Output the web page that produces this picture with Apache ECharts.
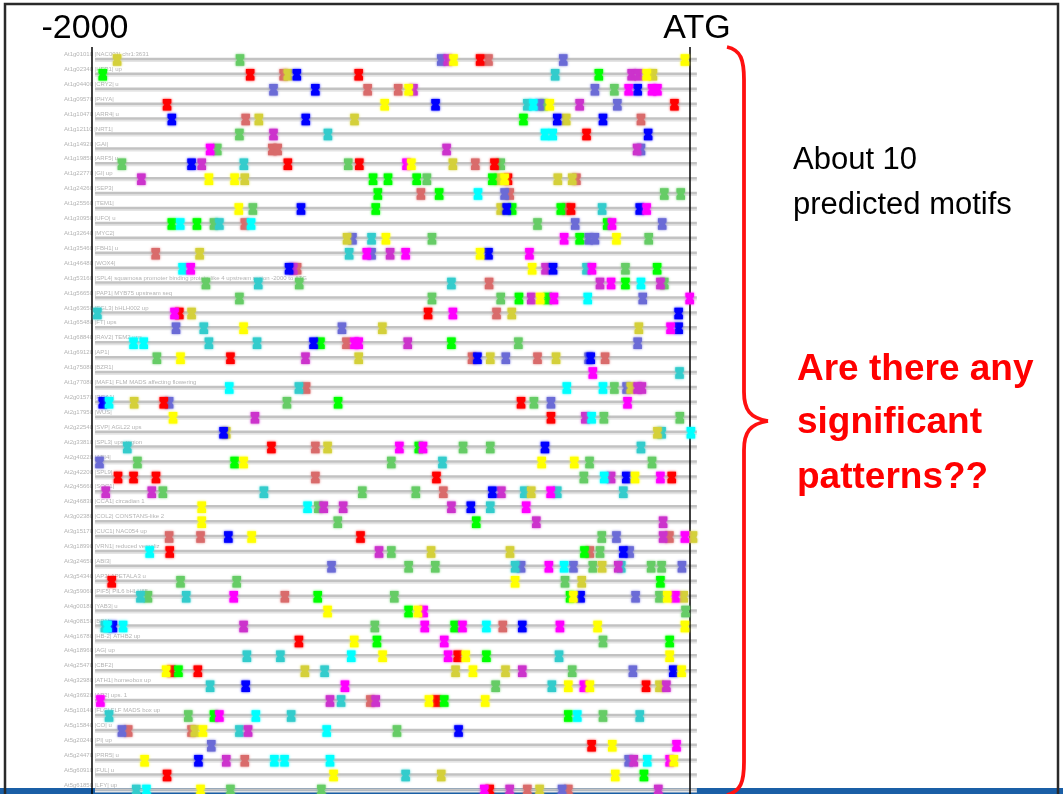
<!DOCTYPE html>
<html>
<head>
<meta charset="utf-8">
<title>Promoter motifs</title>
<script src="https://cdn.jsdelivr.net/npm/echarts@6.0.0/dist/echarts.min.js"></script>
<style>
  html, body { margin: 0; padding: 0; background: #fff; }
  #chart { width: 1063px; height: 794px; }
</style>
</head>
<body>
<div id="chart"></div>
<script>
// upstream window, bp relative to the ATG
const tickValues = [-2000, 0];
const tickLabels = ['-2000', 'ATG'];
const lineStart = -1990;
const lineEnd = 23;

const rowLabels = [
    'At1g01010 |NAC001| chr1:3631', 'At1g02340 |HFR1| up', 'At1g04400 |CRY2| u', 'At1g09570 |PHYA|',
    'At1g10470 |ARR4| u', 'At1g12110 |NRT1|', 'At1g14920 |GAI|', 'At1g19850 |ARF5| u',
    'At1g22770 |GI| up', 'At1g24260 |SEP3|', 'At1g25560 |TEM1|', 'At1g30950 |UFO| u',
    'At1g32640 |MYC2|', 'At1g35460 |FBH1| u', 'At1g46480 |WOX4|',
    'At1g53160 |SPL4| squamosa promoter binding protein-like 4 upstream region -2000 to ATG',
    'At1g56650 |PAP1| MYB75 upstream seq', 'At1g63650 |EGL3| bHLH002 up', 'At1g65480 |FT| ups',
    'At1g68840 |RAV2| TEM2 ups', 'At1g69120 |AP1|', 'At1g75080 |BZR1|',
    'At1g77080 |MAF1| FLM MADS affecting flowering', 'At2g01570 |RGA1|', 'At2g17950 |WUS|',
    'At2g22540 |SVP| AGL22 ups', 'At2g33810 |SPL3| ups region', 'At2g40220 |ABI4|',
    'At2g42200 |SPL9| u', 'At2g45660 |SOC1|', 'At2g46830 |CCA1| circadian 1',
    'At3g02380 |COL2| CONSTANS-like 2', 'At3g15170 |CUC1| NAC054 up', 'At3g18990 |VRN1| reduced vernaliz',
    'At3g24650 |ABI3|', 'At3g54340 |AP3| APETALA3 u', 'At3g59060 |PIF5| PIL6 bHLH65',
    'At4g00180 |YAB3| u', 'At4g08150 |BP1|', 'At4g16780 |HB-2| ATHB2 up', 'At4g18960 |AG| up',
    'At4g25470 |CBF2|', 'At4g32980 |ATH1| homeobox up', 'At4g36920 |AP2| ups. 1',
    'At5g10140 |FLC| FLF MADS box up', 'At5g15840 |CO| u', 'At5g20240 |PI| up',
    'At5g24470 |PRR5| u', 'At5g60910 |FUL| u', 'At5g61850 |LFY| up'
];

// motif hits: [position (bp), row]
const motifYellow = [[-791,0],[-17,0],[-145,1],[-941,2],[-1021,3],[-469,3],[-932,7],[-1609,8],[-1523,8],[-620,8],[-1509,10],[-1017,12],[-246,12],[-702,13],[-528,14],[-501,16],[-1493,18],[-1704,20],[-1729,24],[-1493,27],[-496,27],[-387,27],[-184,28],[-1633,30],[-1633,31],[-1466,32],[-585,35],[-390,36],[-76,36],[-1212,37],[-910,37],[-309,38],[-17,38],[-1123,39],[-1028,40],[-750,40],[-68,40],[-1752,41],[-726,41],[-28,41],[-407,42],[-335,42],[-873,43],[-685,43],[-1629,45],[-260,46],[-1824,47],[-54,47],[-1192,48],[-250,48],[-1637,49]];
const motifOlive = [[-1916,0],[-1345,1],[-124,1],[-1442,4],[-1122,4],[-414,4],[-793,7],[-1489,8],[-640,8],[-442,8],[-394,8],[-633,10],[-1147,12],[-1640,13],[-1667,17],[-596,17],[-1029,18],[-171,18],[-1108,20],[-668,20],[-448,20],[-198,22],[-1859,23],[-1551,25],[-109,25],[-1212,26],[-531,29],[10,32],[-866,33],[-602,33],[-294,34],[-362,35],[-21,36],[-1288,41],[-784,41],[-617,41],[-102,42],[-1656,45],[-832,48],[-503,49]];
const motifGreen = [[-1964,1],[-305,1],[-557,4],[-1060,8],[-1010,8],[-914,8],[-661,8],[-1044,9],[-839,9],[-1051,10],[-595,10],[-432,10],[-1733,11],[-1649,11],[-277,11],[-369,12],[-110,14],[-216,15],[-572,16],[-476,16],[-1236,19],[-798,19],[-1177,23],[-907,26],[-1523,27],[-715,31],[-353,33],[-99,35],[-1245,36],[-401,36],[-941,37],[-787,38],[-1047,39],[-68,39],[-681,40],[-1711,41],[-822,43],[-1592,44],[-407,44],[-154,48]];
const motifLightGreen = [[-1505,0],[-253,2],[-490,3],[-1507,5],[-1581,6],[-1900,7],[-1143,7],[-633,7],[-880,8],[-86,9],[-31,9],[-1462,10],[-1592,11],[-510,11],[-863,12],[-138,12],[-216,14],[-1619,15],[-1307,15],[-86,15],[-1507,16],[-863,16],[-633,16],[-574,19],[-1783,20],[-253,22],[-1348,23],[-522,23],[-288,24],[-34,24],[-759,26],[-668,26],[-1848,27],[-999,27],[-336,27],[-127,27],[-355,28],[-1763,29],[-1096,29],[-917,29],[-1243,30],[-1178,31],[-295,32],[-999,33],[-301,33],[-941,34],[-852,34],[-325,34],[-130,34],[-95,34],[-1704,35],[-1516,35],[-418,35],[-1813,36],[-989,36],[-102,36],[-15,37],[-1054,38],[-291,39],[-394,41],[-650,42],[-1678,44],[-291,44],[-980,45],[-1537,49],[-1233,49]];
const motifRed = [[-702,0],[-1471,1],[-1108,1],[-1749,3],[-52,3],[-346,5],[-1345,7],[-1106,7],[-654,7],[-609,8],[-398,10],[-1708,17],[-876,17],[-1537,20],[-1760,23],[-565,23],[-465,24],[-1400,26],[-1913,28],[-1861,28],[-1786,28],[-848,28],[-61,28],[-1102,32],[-1740,33],[-1934,35],[-1308,39],[-777,40],[-1735,41],[-1646,41],[-147,42],[-848,43],[-329,46],[-1749,48],[-670,49]];
const motifSalmon = [[-674,0],[-1359,1],[-1078,2],[-976,2],[-1486,4],[-164,4],[-1397,6],[-1379,6],[-718,7],[-380,8],[-900,9],[-603,9],[-414,10],[-1489,11],[-1787,13],[-1314,14],[-672,15],[-647,17],[-1149,19],[-729,20],[-510,20],[-284,20],[-1284,22],[-1253,26],[-1253,28],[-825,29],[-1742,32],[-1637,32],[-69,32],[-335,33],[-1355,36],[-626,38],[-1069,43],[-1879,45],[-1667,45],[-1489,47],[-544,49],[-407,49]];
const motifBlue = [[-1315,1],[-1253,2],[-175,2],[-851,3],[-1733,4],[-1285,4],[-444,4],[-291,4],[-140,5],[-1667,7],[-1301,10],[-613,10],[-168,10],[-674,13],[-1341,14],[-458,14],[-38,17],[-38,18],[-1259,19],[-711,20],[-332,20],[-1964,23],[-1560,25],[-485,26],[-213,28],[-661,29],[-733,30],[-1544,32],[-223,33],[-366,36],[-1930,38],[-561,38],[-56,41],[-1486,42],[-774,45],[-1644,47]];
const motifSlate = [[-832,0],[-424,0],[-1393,2],[-318,2],[-503,3],[-243,3],[-164,6],[-620,9],[-384,11],[-93,11],[-1129,12],[-339,12],[-318,12],[-1065,13],[-158,16],[-1719,18],[-1164,18],[-175,19],[-616,20],[-339,20],[-212,22],[-1742,23],[-465,23],[-1975,27],[-246,32],[-202,33],[-1199,34],[-565,34],[-390,34],[-27,34],[-182,36],[-191,41],[-1900,45],[-1601,46],[-205,47],[-428,49]];
const motifCyan = [[-524,3],[-485,5],[-459,5],[-709,9],[-1705,11],[-1468,11],[-1697,14],[-164,15],[-342,16],[-1861,19],[-1827,19],[-1541,22],[-412,22],[-291,22],[-1943,23],[-329,24],[3,25],[-287,28],[-1279,30],[-1807,33],[-421,34],[-1948,38],[-1896,38],[-681,38],[-1133,40],[-1452,44],[-377,44],[-1215,45],[-1390,47],[-1356,47],[-1204,47],[-143,47],[-1818,49]];
const motifTeal = [[-451,1],[-544,3],[-1211,5],[-1492,7],[-294,10],[-1574,11],[-1065,12],[-1140,13],[-346,14],[-1444,15],[-798,15],[-1982,17],[-1626,18],[-1609,19],[-1448,19],[-35,21],[-1308,22],[-95,25],[-1882,26],[-164,26],[-828,27],[-1425,29],[-554,29],[-444,29],[-223,29],[-668,30],[-585,34],[-230,34],[-1838,36],[-1685,36],[-1957,38],[-1482,40],[-1370,40],[-438,40],[-1222,41],[-1605,42],[-462,42],[-1167,43],[-1943,44],[-1334,44],[-168,44],[-1507,45],[-951,48],[-1852,49]];
const motifMagenta = [[-205,2],[-127,2],[-109,2],[-1605,6],[-948,7],[-145,10],[-261,11],[-421,12],[-1081,13],[-951,13],[-537,13],[-1670,14],[-328,14],[-264,15],[-455,16],[-1,16],[-1724,17],[-793,17],[-65,18],[-1122,19],[-1108,19],[-325,21],[-209,23],[-972,26],[-893,26],[-99,28],[-466,29],[-548,30],[-17,32],[-472,34],[-1526,36],[-49,36],[-891,37],[-887,38],[-761,38],[-435,38],[-822,39],[-809,40],[-1154,42],[-355,42],[-1972,43],[-1574,44],[-45,46],[-68,47],[-688,49]];
const motifOrchid = [[-810,0],[-195,1],[-172,1],[-925,2],[-369,3],[-1393,5],[-814,6],[-177,6],[-1633,7],[-1835,8],[-1003,13],[-1327,14],[-483,14],[-301,15],[-99,15],[-531,16],[-944,19],[-1286,20],[-175,22],[-161,22],[-1455,24],[-350,24],[-264,28],[-1954,29],[-1800,29],[-631,29],[-1225,30],[-1160,30],[-798,30],[-514,31],[-90,31],[-90,32],[-1040,33],[-240,34],[-1493,38],[-561,41],[-79,42],[-1204,43],[-1051,43],[-1478,45],[-1551,47],[-188,47],[-603,49],[-106,49]];

const motifs = [
    {name: 'salmon', color: '#d96b6b', data: motifSalmon},
    {name: 'lightgreen', color: '#66cc66', data: motifLightGreen},
    {name: 'slate', color: '#6b6bd6', data: motifSlate},
    {name: 'teal', color: '#33cccc', data: motifTeal},
    {name: 'olive', color: '#d4d03a', data: motifOlive},
    {name: 'orchid', color: '#cc33cc', data: motifOrchid},
    {name: 'red', color: '#ff0000', data: motifRed},
    {name: 'green', color: '#00ff00', data: motifGreen},
    {name: 'blue', color: '#0000ff', data: motifBlue},
    {name: 'cyan', color: '#00ffff', data: motifCyan},
    {name: 'magenta', color: '#ff00ff', data: motifMagenta},
    {name: 'yellow', color: '#ffff00', data: motifYellow},
];

const glyph = 'path://M0,0H10V4.5L8,6.5L10,8.5V13H0V8.5L2,6.5L0,4.5Z';
const font = '"Liberation Sans", Arial, sans-serif';
const braceColor = '#ff1010';

const chart = echarts.init(document.getElementById('chart'));

const rowSeries = {
    type: 'custom',
    silent: true,
    z: 1,
    data: rowLabels.map((label, i) => [lineStart, i, lineEnd]),
    encode: {x: [0, 2], y: 1},
    renderItem: (params, api) => {
        const row = api.value(1);
        const a = api.coord([api.value(0), row]);
        const b = api.coord([api.value(2), row]);
        return {
            type: 'group',
            children: [
                {type: 'line', shape: {x1: a[0], y1: a[1] + 2, x2: b[0], y2: b[1] + 2}, style: {stroke: '#e4e4e4', lineWidth: 2}},
                {type: 'line', shape: {x1: a[0], y1: a[1], x2: b[0], y2: b[1]}, style: {stroke: '#c2c2c2', lineWidth: 2.5}},
                {
                    type: 'text',
                    style: {
                        x: a[0] - 31, y: a[1] - 4.5,
                        text: rowLabels[row],
                        fill: '#b4b4b4',
                        font: '6px ' + font,
                        textAlign: 'left',
                        textVerticalAlign: 'middle',
                    },
                },
            ],
        };
    },
};

const motifSeries = motifs.map(m => ({
    type: 'scatter',
    name: m.name,
    data: m.data,
    symbol: glyph,
    symbolSize: [8.5, 11.5],
    symbolOffset: [0, 1],
    clip: false,
    silent: true,
    z: 3,
    itemStyle: {color: m.color, opacity: 1, shadowBlur: 2.5, shadowColor: m.color},
}));

const braceStroke = {stroke: braceColor, lineWidth: 3.8, fill: null};

chart.setOption({
    animation: false,
    backgroundColor: '#ffffff',
    grid: {left: 92, right: 373, top: 47, bottom: 0},
    xAxis: {
        type: 'value',
        position: 'top',
        z: 2,
        min: tickValues[0],
        max: tickValues[1],
        interval: 2000,
        axisLine: {show: false},
        axisTick: {show: false},
        axisLabel: {
            margin: 1,
            formatter: v => v === tickValues[0] ? '{a|' + tickLabels[0] + '}' : '{b|' + tickLabels[1] + '}',
            rich: {
                a: {fontSize: 34, fontFamily: font, color: '#000', padding: [0, 14, 0, 0]},
                b: {fontSize: 34, fontFamily: font, color: '#000', padding: [0, 0, 0, 14]},
            },
        },
        splitLine: {show: true, lineStyle: {color: '#000', width: 1.5, type: 'solid'}},
    },
    yAxis: {
        type: 'value',
        inverse: true,
        min: -0.8,
        max: 49.3,
        show: false,
    },
    series: [rowSeries, ...motifSeries],
    graphic: {
        elements: [
            {type: 'rect', z: -10, shape: {x: 0, y: 788, width: 1063, height: 6}, style: {fill: '#1a5fa6'}},
            {type: 'rect', z: 100, shape: {x: 5, y: 4, width: 1053, height: 810}, style: {fill: null, stroke: '#2a2a2a', lineWidth: 2.5}},
            {type: 'bezierCurve', z: 100, shape: {x1: 727, y1: 47, cpx1: 741, cpy1: 50, cpx2: 744, cpy2: 60, x2: 744, y2: 80}, style: braceStroke},
            {type: 'line', z: 100, shape: {x1: 744, y1: 80, x2: 744, y2: 392}, style: braceStroke},
            {type: 'bezierCurve', z: 100, shape: {x1: 744, y1: 392, cpx1: 744, cpy1: 410, cpx2: 750, cpy2: 418, x2: 768, y2: 421}, style: braceStroke},
            {type: 'bezierCurve', z: 100, shape: {x1: 768, y1: 421, cpx1: 750, cpy1: 424, cpx2: 744, cpy2: 432, x2: 744, y2: 450}, style: braceStroke},
            {type: 'line', z: 100, shape: {x1: 744, y1: 450, x2: 744, y2: 762}, style: braceStroke},
            {type: 'bezierCurve', z: 100, shape: {x1: 744, y1: 762, cpx1: 744, cpy1: 782, cpx2: 741, cpy2: 791, x2: 727, y2: 795}, style: braceStroke},
            {type: 'text', z: 100, style: {x: 793, y: 160, text: 'About 10', fill: '#000', font: '31px ' + font, textVerticalAlign: 'middle'}},
            {type: 'text', z: 100, style: {x: 793, y: 205, text: 'predicted motifs', fill: '#000', font: '31px ' + font, textVerticalAlign: 'middle'}},
            {type: 'text', z: 100, style: {x: 797, y: 370, text: 'Are there any', fill: '#ff0000', font: 'bold 37px ' + font, textVerticalAlign: 'middle'}},
            {type: 'text', z: 100, style: {x: 797, y: 423, text: 'significant', fill: '#ff0000', font: 'bold 37px ' + font, textVerticalAlign: 'middle'}},
            {type: 'text', z: 100, style: {x: 797, y: 478, text: 'patterns??', fill: '#ff0000', font: 'bold 37px ' + font, textVerticalAlign: 'middle'}},
        ],
    },
});
</script>
</body>
</html>
